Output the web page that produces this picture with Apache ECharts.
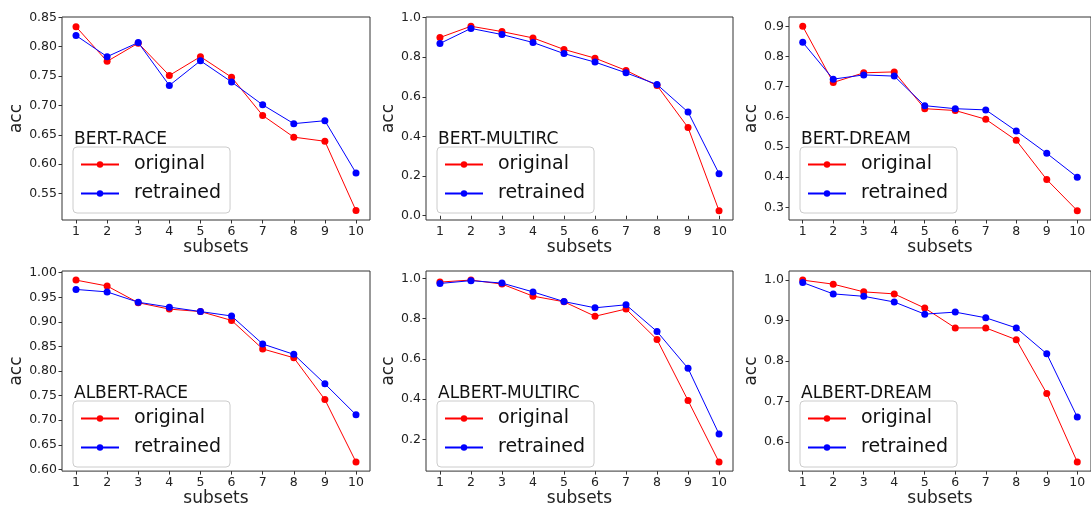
<!DOCTYPE html>
<html><head><meta charset="utf-8">
<script src="https://cdn.jsdelivr.net/npm/echarts@6/dist/echarts.min.js"></script>
<style>html,body{margin:0;padding:0;background:#fff}#c{width:1091px;height:508px}</style>
</head><body><div id="c"></div>
<script>
const subsets = [1, 2, 3, 4, 5, 6, 7, 8, 9, 10];
const panelTitles = ['BERT-RACE', 'BERT-MULTIRC', 'BERT-DREAM', 'ALBERT-RACE', 'ALBERT-MULTIRC', 'ALBERT-DREAM'];
const seriesNames = ['original', 'retrained'];

const bertRaceOriginal = [0.834, 0.775, 0.806, 0.751, 0.783, 0.748, 0.683, 0.646, 0.639, 0.521];
const bertRaceRetrained = [0.819, 0.783, 0.807, 0.734, 0.776, 0.740, 0.701, 0.669, 0.674, 0.585];
const bertMultircOriginal = [0.899, 0.956, 0.929, 0.897, 0.839, 0.795, 0.733, 0.657, 0.445, 0.025];
const bertMultircRetrained = [0.869, 0.945, 0.914, 0.874, 0.818, 0.775, 0.721, 0.662, 0.523, 0.212];
const bertDreamOriginal = [0.900, 0.714, 0.746, 0.749, 0.627, 0.621, 0.592, 0.522, 0.392, 0.289];
const bertDreamRetrained = [0.847, 0.725, 0.739, 0.735, 0.637, 0.627, 0.623, 0.553, 0.479, 0.400];
const albertRaceOriginal = [0.985, 0.973, 0.939, 0.926, 0.921, 0.903, 0.845, 0.827, 0.742, 0.615];
const albertRaceRetrained = [0.966, 0.961, 0.940, 0.930, 0.921, 0.912, 0.855, 0.834, 0.774, 0.711];
const albertMultircOriginal = [0.982, 0.992, 0.972, 0.912, 0.884, 0.812, 0.848, 0.696, 0.393, 0.087];
const albertMultircRetrained = [0.975, 0.989, 0.977, 0.933, 0.885, 0.854, 0.869, 0.736, 0.553, 0.226];
const albertDreamOriginal = [1.000, 0.990, 0.971, 0.966, 0.931, 0.882, 0.882, 0.853, 0.720, 0.551];
const albertDreamRetrained = [0.994, 0.966, 0.960, 0.946, 0.916, 0.921, 0.907, 0.882, 0.818, 0.662];

const bertRaceTicks = ['0.55', '0.60', '0.65', '0.70', '0.75', '0.80', '0.85'];
const bertMultircTicks = ['0.0', '0.2', '0.4', '0.6', '0.8', '1.0'];
const bertDreamTicks = ['0.3', '0.4', '0.5', '0.6', '0.7', '0.8', '0.9'];
const albertRaceTicks = ['0.60', '0.65', '0.70', '0.75', '0.80', '0.85', '0.90', '0.95', '1.00'];
const albertMultircTicks = ['0.2', '0.4', '0.6', '0.8', '1.0'];
const albertDreamTicks = ['0.6', '0.7', '0.8', '0.9', '1.0'];

const yRangeMin = [0.505, -0.0216, 0.258, 0.5965, 0.042, 0.5285];
const yRangeMax = [0.8505, 1.0026, 0.931, 1.0035, 1.037, 1.0225];

const originals = [bertRaceOriginal, bertMultircOriginal, bertDreamOriginal, albertRaceOriginal, albertMultircOriginal, albertDreamOriginal];
const retraineds = [bertRaceRetrained, bertMultircRetrained, bertDreamRetrained, albertRaceRetrained, albertMultircRetrained, albertDreamRetrained];
const yTicks = [bertRaceTicks, bertMultircTicks, bertDreamTicks, albertRaceTicks, albertMultircTicks, albertDreamTicks];

const FONT = 'DejaVu Sans';
const COLORS = ['#ff0000', '#0000ff'];
const colLeft = [62, 426, 789];
const colWidth = [308, 307, 307];
const rowTop = [17, 271];
const rowHeight = [203, 202];
const yNameGap = [35, 25, 25, 35, 25, 25];

const grids = [], xAxes = [], yAxes = [], series = [], legends = [], titles = [];
for (let p = 0; p < 6; p++) {
  const r = Math.floor(p / 3), c = p % 3;
  const gl = colLeft[c], gt = rowTop[r];
  grids.push({left: gl, top: gt, width: colWidth[c], height: rowHeight[r], show: true,
    borderColor: '#333', borderWidth: 1, backgroundColor: 'transparent', containLabel: false});
  xAxes.push({type: 'value', gridIndex: p, min: 0.55, max: 10.45,
    name: 'subsets', nameLocation: 'middle', nameGap: 17,
    nameTextStyle: {fontFamily: FONT, fontSize: 17, color: '#222'},
    axisLine: {show: false}, splitLine: {show: false},
    axisTick: {show: true, inside: false, length: 3.5, lineStyle: {color: '#333'}, customValues: subsets},
    axisLabel: {customValues: subsets, margin: 5, fontFamily: FONT, fontSize: 12.5, color: '#222',
      formatter: v => String(Math.round(v))}
  });
  const tk = yTicks[p];
  const tv = tk.map(Number);
  yAxes.push({type: 'value', gridIndex: p, min: yRangeMin[p], max: yRangeMax[p],
    name: 'acc', nameLocation: 'middle', nameGap: yNameGap[p],
    nameTextStyle: {fontFamily: FONT, fontSize: 17, color: '#222'},
    axisLine: {show: false}, splitLine: {show: false},
    axisTick: {show: true, inside: false, length: 3.5, lineStyle: {color: '#333'}, customValues: tv},
    axisLabel: {customValues: tv, margin: 5, fontFamily: FONT, fontSize: 12.5, color: '#222',
      formatter: v => { const i = tv.findIndex(t => Math.abs(t - v) < 1e-9); return i >= 0 ? tk[i] : ''; }}
  });
  const sets = [originals[p], retraineds[p]];
  for (let s = 0; s < 2; s++) {
    series.push({type: 'line', name: seriesNames[s], xAxisIndex: p, yAxisIndex: p,
      data: subsets.map((x, i) => [x, sets[s][i]]),
      color: COLORS[s],
      symbol: 'circle', symbolSize: 7, showSymbol: true,
      lineStyle: {color: COLORS[s], width: 1}, itemStyle: {color: COLORS[s]},
      emphasis: {disabled: true}, animation: false, z: 2 + s});
  }
  titles.push({text: panelTitles[p], left: gl + 12, top: gt + 114, padding: 0,
    textStyle: {fontFamily: FONT, fontSize: 17, fontWeight: 'normal', color: '#111'}});
  legends.push({left: gl + 11, top: gt + 130, orient: 'vertical',
    data: seriesNames,
    itemWidth: 38, itemHeight: 8, itemGap: 10, padding: [8, 9, 10, 7],
    backgroundColor: 'rgba(255,255,255,0.8)', borderColor: '#cccccc', borderWidth: 1, borderRadius: 4,
    textStyle: {fontFamily: FONT, fontSize: 19, color: '#111', padding: [0, 0, 0, 10]}});
}

const chart = echarts.init(document.getElementById('c'), null, {renderer: 'canvas'});
chart.setOption({
  backgroundColor: '#fff', animation: false,
  title: titles, grid: grids, xAxis: xAxes, yAxis: yAxes, legend: legends, series: series
});
</script></body></html>
